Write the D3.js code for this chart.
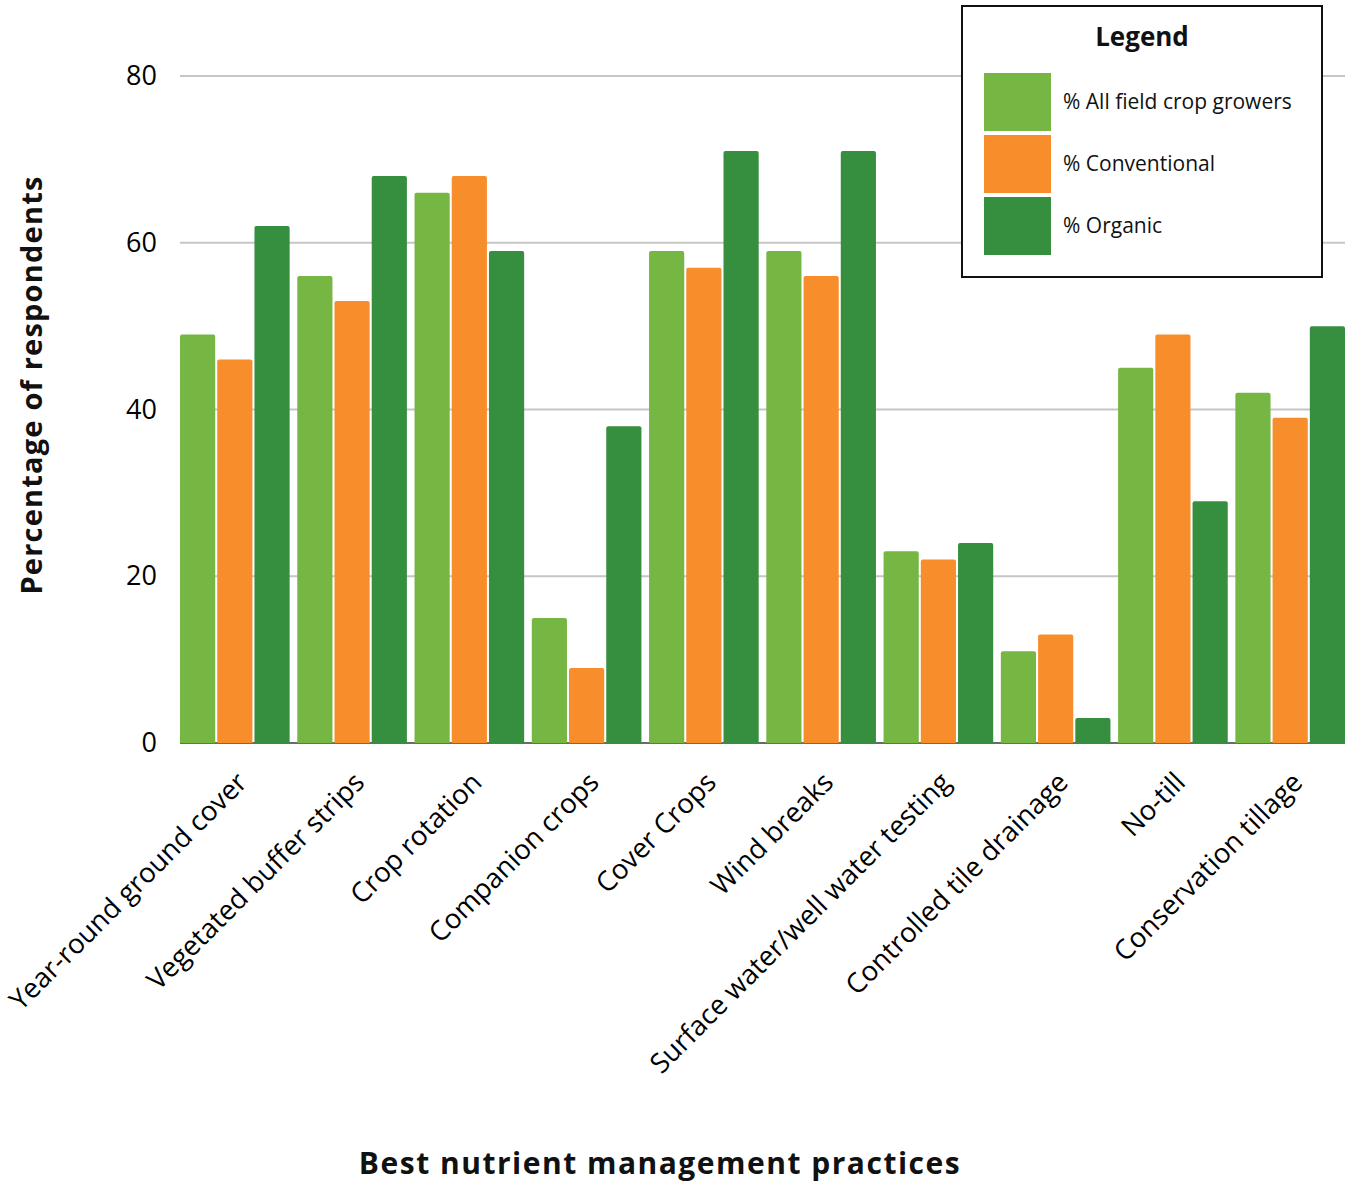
<!DOCTYPE html>
<html>
<head>
<meta charset="utf-8">
<script src="https://cdn.jsdelivr.net/npm/d3@7"></script>
<style>
  html, body { margin: 0; padding: 0; background: #fff; }
  svg { display: block; }
</style>
</head>
<body>
<svg id="chart" width="1353" height="1184"></svg>
<script>
// Survey results: share of respondents using each best nutrient management practice
const categories = [
  "Year-round ground cover", "Vegetated buffer strips", "Crop rotation",
  "Companion crops", "Cover Crops", "Wind breaks",
  "Surface water/well water testing", "Controlled tile drainage",
  "No-till", "Conservation tillage"
];
const seriesNames = ["% All field crop growers", "% Conventional", "% Organic"];
const allGrowers   = [49, 56, 66, 15, 59, 59, 23, 11, 45, 42];
const conventional = [46, 53, 68,  9, 57, 56, 22, 13, 49, 39];
const organic      = [62, 68, 59, 38, 71, 71, 24,  3, 29, 50];
const yTicks = [0, 20, 40, 60, 80];
const colors = ["#76b743", "#f88d2c", "#368f3f"];

const seriesValues = [allGrowers, conventional, organic];
const rows = categories.map((c, i) => ({
  category: c,
  values: seriesNames.map((s, j) => ({ series: s, idx: j, value: seriesValues[j][i] }))
}));

const svg = d3.select("#chart");
const plotLeft = 180, plotRight = 1345, plotTop = 76, plotBottom = 743;

const x0 = d3.scaleBand().domain(categories).range([plotLeft, plotRight])
  .paddingInner(0.065).paddingOuter(0);
const x1 = d3.scaleBand().domain(d3.range(seriesNames.length))
  .range([0, x0.bandwidth()]).paddingInner(0.055);
const y = d3.scaleLinear().domain([0, 80]).range([plotBottom, plotTop]);

// gridlines
svg.append("g").selectAll("line")
  .data(yTicks.filter(t => t > 0))
  .join("line")
  .attr("x1", plotLeft).attr("x2", plotRight)
  .attr("y1", d => y(d)).attr("y2", d => y(d))
  .attr("stroke", "#c6c6c6").attr("stroke-width", 2);

// y tick labels
const yAxis = d3.axisLeft(y).tickValues(yTicks).tickSize(0).tickPadding(0);
const yg = svg.append("g").attr("transform", `translate(${plotLeft - 23},0)`).call(yAxis);
yg.select(".domain").remove();
yg.selectAll("text")
  .attr("font-family", "'Open Sans', sans-serif")
  .attr("font-size", 27)
  .attr("fill", "#000");

// baseline
svg.append("line")
  .attr("x1", plotLeft).attr("x2", plotRight)
  .attr("y1", y(0)).attr("y2", y(0))
  .attr("stroke", "#6b6b6b").attr("stroke-width", 2);

// bars
const groups = svg.append("g").selectAll("g")
  .data(rows).join("g")
  .attr("transform", d => `translate(${x0(d.category)},0)`);

groups.selectAll("path")
  .data(d => d.values).join("path")
  .attr("fill", d => colors[d.idx])
  .attr("d", d => {
    const bx = x1(d.idx), w = x1.bandwidth();
    const ty = y(d.value), by = y(0), r = 2;
    return `M${bx},${by}V${ty + r}Q${bx},${ty} ${bx + r},${ty}H${bx + w - r}Q${bx + w},${ty} ${bx + w},${ty + r}V${by}Z`;
  });

// x category labels
const xAxis = d3.axisBottom(x0).tickSize(0).tickPadding(0);
const xg = svg.append("g").attr("transform", `translate(0,${plotBottom})`).call(xAxis);
xg.select(".domain").remove();
xg.selectAll("text")
  .attr("font-family", "'Open Sans', sans-serif")
  .attr("font-size", 27.5)
  .attr("fill", "#000")
  .attr("text-anchor", "end")
  .attr("dy", null)
  .attr("y", 0)
  .attr("transform", "translate(14,41) rotate(-45)");

// axis titles
svg.append("text")
  .attr("transform", `translate(42,385) rotate(-90)`)
  .attr("text-anchor", "middle")
  .attr("font-family", "'Open Sans', sans-serif")
  .attr("font-weight", 700)
  .attr("font-size", 29)
  .attr("letter-spacing", 1.2)
  .attr("fill", "#111")
  .text("Percentage of respondents");

svg.append("text")
  .attr("x", 660).attr("y", 1174)
  .attr("text-anchor", "middle")
  .attr("font-family", "'Open Sans', sans-serif")
  .attr("font-weight", 700)
  .attr("font-size", 30)
  .attr("letter-spacing", 1.5)
  .attr("fill", "#111")
  .text("Best nutrient management practices");

// legend
const lg = svg.append("g").attr("transform", "translate(962,6)");
lg.append("rect")
  .attr("width", 360).attr("height", 271)
  .attr("fill", "#fff").attr("stroke", "#111").attr("stroke-width", 2);
lg.append("text")
  .attr("x", 180).attr("y", 40)
  .attr("text-anchor", "middle")
  .attr("font-family", "'Open Sans', sans-serif")
  .attr("font-weight", 700)
  .attr("font-size", 26)
  .attr("fill", "#111")
  .text("Legend");
const items = lg.selectAll("g.item")
  .data(seriesNames).join("g")
  .attr("class", "item")
  .attr("transform", (d, i) => `translate(22,${67 + i * 62})`);
items.append("rect")
  .attr("width", 67).attr("height", 58)
  .attr("fill", (d, i) => colors[i]);
items.append("text")
  .attr("x", 79).attr("y", 36)
  .attr("font-family", "'Open Sans', sans-serif")
  .attr("font-size", 21)
  .attr("fill", "#111")
  .text(d => d);
</script>
</body>
</html>
